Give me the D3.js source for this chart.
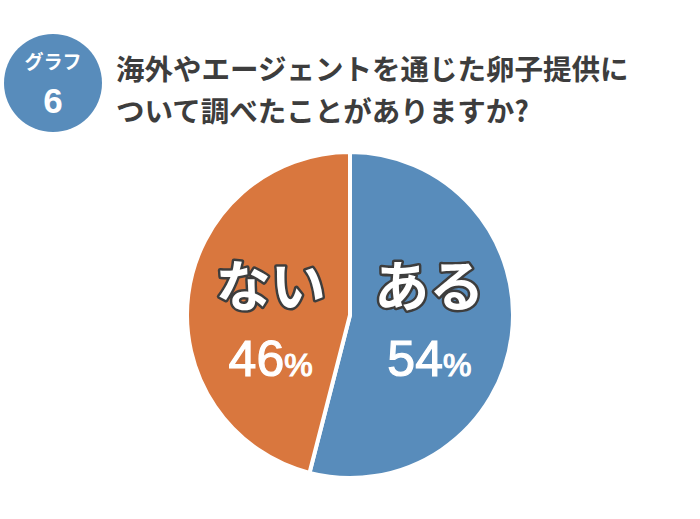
<!DOCTYPE html>
<html>
<head>
<meta charset="utf-8">
<script src="https://cdn.jsdelivr.net/npm/d3@7"></script>
<style>
  body { margin: 0; background: #fff; }
  text { font-family: "Noto Sans CJK JP", "Noto Sans", sans-serif; }
  text.num { font-family: "Liberation Sans", Arial, sans-serif; }
</style>
</head>
<body>
<div id="chart"></div>
<script>
var categories = ['ある', 'ない'];
var values = [54, 46];
var colors = ['#588cbb', '#d9773e'];
var titleLines = ['海外やエージェントを通じた卵子提供に', 'ついて調べたことがありますか?'];
var badgeLabel = 'グラフ';
var badgeNumber = '6';

var width = 700,
    height = 519,
    cx = 350,
    cy = 315,
    radius = 163;

var svg = d3.select('#chart')
  .append('svg')
    .attr('width', width)
    .attr('height', height);

// badge
var badge = svg.append('g').attr('transform', 'translate(53,83)');
badge.append('circle')
    .attr('r', 49)
    .attr('fill', '#588cbb');
badge.append('text')
    .attr('y', -14)
    .attr('text-anchor', 'middle')
    .attr('fill', '#fff')
    .attr('font-size', 19)
    .attr('font-weight', 700)
    .text(badgeLabel);
badge.append('text')
    .attr('class', 'num')
    .attr('y', 30)
    .attr('text-anchor', 'middle')
    .attr('fill', '#fff')
    .attr('font-size', 35)
    .attr('font-weight', 700)
    .text(badgeNumber);

// title
svg.selectAll('text.title').data(titleLines)
  .enter()
    .append('text')
      .attr('class', 'title')
      .attr('x', 116)
      .attr('y', function(d, i) { return 80 + i * 42; })
      .attr('fill', '#3d3d3d')
      .attr('font-size', 28.5)
      .attr('font-weight', 700)
      .text(function(d) { return d; });

// pie
var data = categories.map(function(c, i) { return { name: c, value: values[i], color: colors[i] }; });
var pie = d3.pie().sort(null).value(function(d) { return d.value; });
var arc = d3.arc().innerRadius(0).outerRadius(radius);
var labelArc = d3.arc().innerRadius(80).outerRadius(80);

var g = svg.append('g').attr('transform', 'translate(' + cx + ',' + cy + ')');
var arcs = pie(data);

g.selectAll('path.slice').data(arcs)
  .enter()
    .append('path')
      .attr('class', 'slice')
      .attr('d', arc)
      .attr('fill', function(d) { return d.data.color; })
      .attr('stroke', '#fff')
      .attr('stroke-width', 4)
      .attr('stroke-linejoin', 'round');

// labels share one row; x from the slice centroid
var labels = g.selectAll('g.label').data(arcs)
  .enter()
    .append('g')
      .attr('class', 'label')
      .attr('transform', function(d) {
        var c = labelArc.centroid(d);
        return 'translate(' + c[0] + ',0)';
      });

labels.append('text')
    .attr('y', -9)
    .attr('text-anchor', 'middle')
    .attr('fill', '#fff')
    .attr('stroke', '#3d3d3d')
    .attr('stroke-width', 5)
    .attr('stroke-linejoin', 'round')
    .attr('paint-order', 'stroke')
    .attr('font-size', 55)
    .attr('font-weight', 700)
    .text(function(d) { return d.data.name; });

var pct = labels.append('text')
    .attr('class', 'num')
    .attr('y', 61)
    .attr('text-anchor', 'middle')
    .attr('fill', '#fff')
    .attr('stroke', '#fff')
    .attr('stroke-width', 1.2);
pct.append('tspan')
    .attr('font-size', 50)
    .text(function(d) { return d.data.value; });
pct.append('tspan')
    .attr('font-size', 32)
    .text('%');
</script>
</body>
</html>
